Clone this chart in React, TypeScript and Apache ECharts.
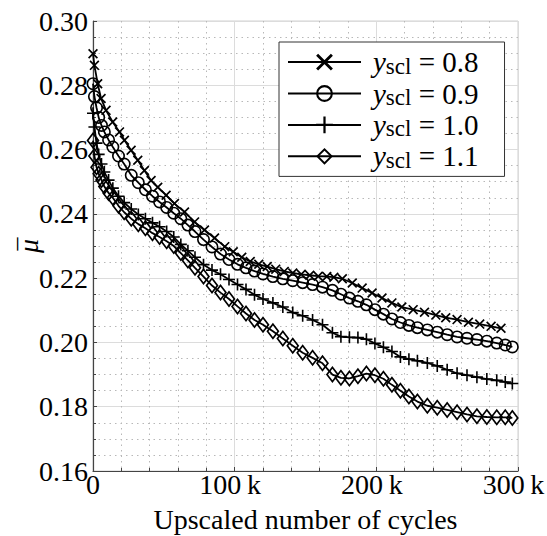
import React, { useEffect, useRef } from 'react';
import * as echarts from 'echarts';

// x in thousands of cycles
const xA = [0, 1, 3.3, 5.7, 9.2, 13.9, 18.7, 22.2, 26.9, 31.6, 36.3, 41, 45.7, 51.6, 57.5, 64.6, 71.7, 78.7, 85.8, 93, 99, 105, 111, 117, 123, 129, 135, 141, 147, 153, 159, 165, 170, 176, 183, 190, 197, 204, 211, 218, 226, 234, 242, 249, 257, 265, 273, 281, 288];
const yA = [0.2898, 0.2862, 0.2805, 0.2759, 0.2722, 0.2686, 0.2655, 0.2629, 0.2598, 0.2567, 0.2535, 0.2504, 0.2483, 0.2458, 0.2432, 0.2406, 0.2375, 0.2350, 0.2325, 0.2298, 0.2282, 0.2265, 0.2252, 0.2243, 0.2236, 0.2228, 0.2221, 0.2216, 0.2212, 0.2209, 0.2206, 0.2205, 0.2203, 0.2198, 0.2185, 0.2169, 0.2154, 0.2138, 0.2123, 0.2110, 0.2102, 0.2094, 0.2085, 0.2077, 0.2071, 0.2063, 0.2057, 0.2050, 0.2044];

const xBCD = [0, 1, 2.5, 4, 6, 8, 11, 14, 18, 22, 27, 32, 37, 42, 47, 52, 57, 62, 67, 72, 78, 84, 90, 96, 102, 108, 114, 120, 127, 134, 141, 148, 155, 162, 169, 175, 181, 187, 193, 199, 205, 211, 217, 223, 229, 236, 243, 250, 257, 264, 271, 278, 285, 291, 296];
const yB = [0.2805, 0.2765, 0.2730, 0.2700, 0.2675, 0.2655, 0.2630, 0.2608, 0.2580, 0.2555, 0.2520, 0.2497, 0.2475, 0.2455, 0.2437, 0.2420, 0.2402, 0.2385, 0.2365, 0.2345, 0.2320, 0.2297, 0.2275, 0.2258, 0.2243, 0.2232, 0.2222, 0.2213, 0.2205, 0.2198, 0.2192, 0.2186, 0.2180, 0.2172, 0.2162, 0.2150, 0.2138, 0.2128, 0.2117, 0.2102, 0.2088, 0.2073, 0.2062, 0.2053, 0.2046, 0.2039, 0.2032, 0.2024, 0.2017, 0.2013, 0.2009, 0.2004, 0.1998, 0.1992, 0.1986];
const yC = [0.2713, 0.2670, 0.2620, 0.2585, 0.2555, 0.2530, 0.2505, 0.2480, 0.2455, 0.2435, 0.2415, 0.2398, 0.2385, 0.2372, 0.2360, 0.2345, 0.2328, 0.2305, 0.2285, 0.2265, 0.2242, 0.2225, 0.2212, 0.2196, 0.2180, 0.2165, 0.2148, 0.2135, 0.2123, 0.2110, 0.2093, 0.2083, 0.2070, 0.2055, 0.2030, 0.2018, 0.2016, 0.2015, 0.2010, 0.1997, 0.1985, 0.1972, 0.1955, 0.1948, 0.1943, 0.1936, 0.1927, 0.1915, 0.1904, 0.1898, 0.1892, 0.1886, 0.1882, 0.1877, 0.1872];
const yD = [0.2628, 0.2580, 0.2545, 0.2525, 0.2505, 0.2485, 0.2465, 0.2450, 0.2425, 0.2405, 0.2385, 0.2368, 0.2355, 0.2340, 0.2328, 0.2315, 0.2300, 0.2278, 0.2255, 0.2232, 0.2205, 0.2177, 0.2155, 0.2135, 0.2112, 0.2090, 0.2070, 0.2055, 0.2035, 0.2012, 0.1990, 0.1968, 0.1952, 0.1935, 0.1900, 0.1890, 0.1888, 0.1895, 0.1903, 0.1898, 0.1887, 0.1868, 0.1850, 0.1832, 0.1816, 0.1803, 0.1797, 0.1790, 0.1783, 0.1776, 0.1770, 0.1768, 0.1767, 0.1767, 0.1765];

const scaleValues = ['0.8', '0.9', '1.0', '1.1'];
const xAxisTitle = 'Upscaled number of cycles';
const yAxisTitle = '{b|\u2013}\n{m|\u03BC}';

const FONT = 'Liberation Serif';

const SYM_X = 'path://M-5,-3.8L-3.8,-5L5,3.8L3.8,5ZM3.8,-5L5,-3.8L-3.8,5L-5,3.8Z';
const SYM_PLUS = 'path://M-0.8,-6L0.8,-6L0.8,6L-0.8,6ZM-6,-0.8L6,-0.8L6,0.8L-6,0.8Z';
const SYM_O = 'path://M0,-6A6,6 0 1 1 0,6A6,6 0 1 1 0,-6ZM0,-4.5A4.5,4.5 0 1 0 0,4.5A4.5,4.5 0 1 0 0,-4.5Z';
const SYM_D = 'path://M0,-8L6,0L0,8L-6,0ZM0,-5.4L-4.05,0L0,5.4L4.05,0Z';

function mk(name: string, xs: number[], ys: number[], symbol: string, size: any) {
  return {
    type: 'line',
    name,
    data: xs.map((x, i) => [x, ys[i]]),
    symbol,
    symbolSize: size,
    lineStyle: { color: '#000', width: 1.8 },
    itemStyle: { color: '#000', borderWidth: 0 },
    emphasis: { disabled: true },
    silent: true,
  };
}

export default function App() {
  const ref = useRef<HTMLDivElement>(null);
  useEffect(() => {
    document.body.style.margin = '0';
    const chart = echarts.init(ref.current!, undefined, { renderer: 'svg' });
    const axisCommon = {
      type: 'value',
      nameMoveOverlap: false,
      axisLine: { show: true, lineStyle: { color: '#444', width: 1.2 } },
      axisTick: { show: true, inside: true, length: 4, lineStyle: { color: '#444' } },
      splitLine: { show: true, lineStyle: { color: '#dcdcdc', width: 1 } },
      minorSplitLine: { show: true, lineStyle: { color: '#b8b8b8', type: [1.5, 4], width: 1 } },
    };
    chart.setOption({
      animation: false,
      backgroundColor: '#fff',
      textStyle: { fontFamily: FONT },
      grid: {
        left: 93, right: 29, top: 21, bottom: 65, show: true, borderColor: '#d0d0d0', borderWidth: 1,
        outerBoundsMode: 'none', containLabel: false,
      },
      xAxis: {
        ...axisCommon,
        min: 0, max: 300, interval: 100,
        minorTick: { show: true, splitNumber: 5, length: 3, lineStyle: { color: '#444' } },
        axisLabel: {
          formatter: (v: number) => (v === 0 ? '0' : `{k|${v}\u2009k}`),
          fontFamily: FONT, fontSize: 28, lineHeight: 22, color: '#000', margin: 2,
          rich: { k: { fontFamily: FONT, fontSize: 28, lineHeight: 22, color: '#000', padding: [0, 9, 0, 0] } },
        },
        name: xAxisTitle, nameLocation: 'middle', nameGap: 34,
        nameTextStyle: { fontFamily: FONT, fontSize: 28, color: '#000' },
      },
      yAxis: {
        ...axisCommon,
        min: 0.16, max: 0.30, interval: 0.02,
        minorTick: { show: true, splitNumber: 4, length: 3, lineStyle: { color: '#444' } },
        axisLabel: {
          formatter: (v: number) => v.toFixed(2),
          fontFamily: FONT, fontSize: 28, color: '#000', margin: 5,
        },
        name: yAxisTitle, nameLocation: 'middle', nameGap: 53,
        nameTextStyle: {
          fontFamily: FONT, fontSize: 28, color: '#000',
          rich: {
            b: { fontFamily: FONT, fontSize: 26, lineHeight: 2, padding: [0, 0, 0, 4] },
            m: { fontFamily: FONT, fontSize: 28, fontStyle: 'italic', lineHeight: 24 },
          },
        },
      },
      legend: {
        show: true, orient: 'vertical', left: 279, top: 42,
        backgroundColor: '#fff', borderColor: '#333', borderWidth: 1, borderRadius: 0,
        padding: [4.6, 26, 4.6, 8], itemGap: 0.4, itemWidth: 73, itemHeight: 21,
        formatter: (n: string) => `{i|y}{s|scl}{t| = ${n}}`,
        textStyle: {
          color: '#000', fontFamily: FONT, fontSize: 28, lineHeight: 24,
          rich: {
            i: { fontFamily: FONT, fontSize: 29, fontStyle: 'italic', lineHeight: 24, padding: [0, 0, 0, 7] },
            s: { fontFamily: FONT, fontSize: 23, lineHeight: 16, padding: [8, 0, 0, 0] },
            t: { fontFamily: FONT, fontSize: 29, lineHeight: 24 },
          },
        },
      },
      series: [
        mk(scaleValues[0], xA, yA, SYM_X, 10),
        mk(scaleValues[1], xBCD, yB, SYM_O, 13),
        mk(scaleValues[2], xBCD, yC, SYM_PLUS, 12),
        mk(scaleValues[3], xBCD, yD, SYM_D, [13, 17]),
      ],
    });
    return () => chart.dispose();
  }, []);
  return <div ref={ref} style={{ width: 547, height: 536 }} />;
}
